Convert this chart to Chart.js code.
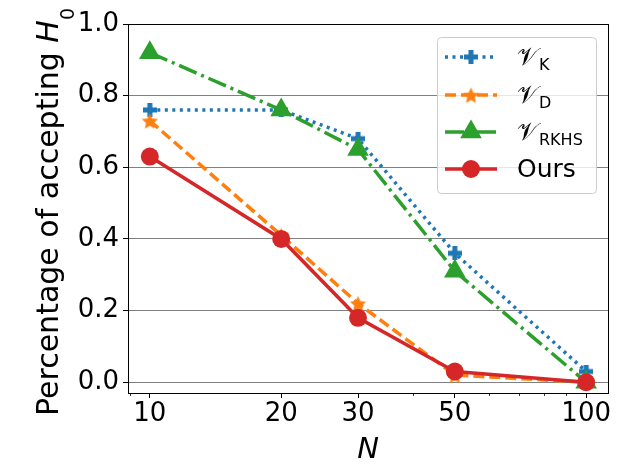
<!DOCTYPE html>
<html>
<head>
<meta charset="utf-8">
<script src="https://cdn.jsdelivr.net/npm/chart.js@4.4.1/dist/chart.umd.min.js"></script>
<style>
  html, body { margin: 0; padding: 0; background: #fff; }
</style>
</head>
<body>
<canvas id="acceptChart" width="640" height="473"></canvas>
<script>
// data
const sampleSizes = [10, 20, 30, 50, 100];
const vK = [0.76, 0.76, 0.68, 0.36, 0.03];
const vD = [0.73, 0.41, 0.22, 0.02, 0.0];
const vRKHS = [0.92, 0.76, 0.65, 0.31, 0.0];
const ours = [0.63, 0.40, 0.18, 0.03, 0.0];

const xTicks = [10, 20, 30, 50, 100];
const xMinorTicks = [9, 40, 60, 70, 80, 90];
const yTicks = [0.0, 0.2, 0.4, 0.6, 0.8, 1.0];

const legendMain = ["𝒱", "𝒱", "𝒱", "Ours"];
const legendSub = ["K", "D", "RKHS", ""];

const FONT = "'DejaVu Sans', sans-serif";

// marker images (matplotlib 'P' and '*')
function plusImage(size, thick, color) {
  const c = document.createElement("canvas");
  c.width = c.height = size;
  const g = c.getContext("2d");
  g.fillStyle = color;
  const m = (size - thick) / 2;
  g.fillRect(0, m, size, thick);
  g.fillRect(m, 0, thick, size);
  return c;
}
function starImage(r, color) {
  const s = Math.ceil(r * 2 + 2);
  const c = document.createElement("canvas");
  c.width = c.height = s;
  const g = c.getContext("2d");
  g.fillStyle = color;
  g.beginPath();
  for (let i = 0; i < 10; i++) {
    const rr = i % 2 ? r * 0.47 : r;
    const a = -Math.PI / 2 + i * Math.PI / 5;
    g.lineTo(s / 2 + rr * Math.cos(a), s / 2 + 1 + rr * Math.sin(a));
  }
  g.closePath();
  g.fill();
  return c;
}

const toPoints = (vals) => sampleSizes.map((n, i) => ({ x: n, y: vals[i] }));

const datasets = [
  {
    label: "VK", data: toPoints(vK),
    borderColor: "#1f77b4", backgroundColor: "#1f77b4",
    borderDash: [3, 4.5], borderWidth: 3.5,
    pointStyle: plusImage(14, 5, "#1f77b4"), pointRadius: 7, order: 4,
  },
  {
    label: "VD", data: toPoints(vD),
    borderColor: "#ff7f0e", backgroundColor: "#ff7f0e",
    borderDash: [11, 5], borderWidth: 3.5,
    pointStyle: starImage(8.5, "#ff7f0e"), pointRadius: 8, order: 3,
  },
  {
    label: "VRKHS", data: toPoints(vRKHS),
    borderColor: "#2ca02c", backgroundColor: "#2ca02c",
    borderDash: [19, 5, 3, 5], borderWidth: 3.5,
    pointStyle: "triangle", pointRadius: 12.5, pointBorderWidth: 0, order: 2,
  },
  {
    label: "Ours", data: toPoints(ours),
    borderColor: "#d62728", backgroundColor: "#d62728",
    borderWidth: 3.5,
    pointStyle: "circle", pointRadius: 9, pointBorderWidth: 0, order: 1,
  },
];

// frame, minor ticks, axis titles and the legend
const extras = {
  id: "extras",
  afterDraw(chart) {
    const { ctx, chartArea: a, scales } = chart;
    ctx.save();

    // full black frame
    ctx.strokeStyle = "#000";
    ctx.lineWidth = 1;
    ctx.setLineDash([]);
    ctx.strokeRect(a.left + 0.5, a.top + 0.5, a.right - a.left, a.bottom - a.top);

    // minor ticks on the log axis
    ctx.lineWidth = 0.8;
    xMinorTicks.forEach((v) => {
      const px = Math.round(scales.x.getPixelForValue(v)) + 0.5;
      ctx.beginPath();
      ctx.moveTo(px, a.bottom);
      ctx.lineTo(px, a.bottom + 3);
      ctx.stroke();
    });

    // x title
    ctx.fillStyle = "#000";
    ctx.font = "italic 29px " + FONT;
    ctx.textAlign = "center";
    ctx.textBaseline = "alphabetic";
    ctx.fillText("N", (a.left + a.right) / 2, 458);

    // y title with italic H and subscript 0
    ctx.save();
    ctx.translate(58, 212);
    ctx.rotate(-Math.PI / 2);
    const t1 = "Percentage of accepting ";
    ctx.font = "30px " + FONT;
    const w1 = ctx.measureText(t1).width;
    ctx.font = "italic 30px " + FONT;
    const w2 = ctx.measureText("H").width;
    ctx.font = "19px " + FONT;
    const w3 = ctx.measureText("0").width;
    const x0 = -(w1 + w2 + w3) / 2;
    ctx.textAlign = "left";
    ctx.font = "30px " + FONT;
    ctx.fillText(t1, x0, 0);
    ctx.font = "italic 30px " + FONT;
    ctx.fillText("H", x0 + w1, 0);
    ctx.font = "19px " + FONT;
    ctx.fillText("0", x0 + w1 + w2, 16);
    ctx.restore();

    // legend
    const bx = 437, by = 37, bw = 159, bh = 156;
    ctx.beginPath();
    ctx.roundRect(bx + 0.5, by + 0.5, bw, bh, 4);
    ctx.fillStyle = "rgba(255,255,255,0.8)";
    ctx.fill();
    ctx.strokeStyle = "#cccccc";
    ctx.lineWidth = 1;
    ctx.stroke();

    const rows = [57, 95, 132, 169];
    datasets.forEach((ds, i) => {
      const y = rows[i];
      ctx.strokeStyle = ds.borderColor;
      ctx.fillStyle = ds.backgroundColor;
      ctx.lineWidth = ds.borderWidth;
      ctx.lineCap = "butt";
      ctx.setLineDash(ds.borderDash || []);
      ctx.beginPath();
      ctx.moveTo(445, y);
      ctx.lineTo(497, y);
      ctx.stroke();
      ctx.setLineDash([]);
      Chart.helpers.drawPoint(ctx, {
        pointStyle: ds.pointStyle, radius: ds.pointRadius, rotation: 0, borderWidth: 0,
      }, 471, y);

      ctx.fillStyle = "#000";
      ctx.textAlign = "left";
      ctx.textBaseline = "alphabetic";
      ctx.font = "25px " + FONT;
      ctx.fillText(legendMain[i], 517, y + 8);
      if (legendSub[i]) {
        const wm = ctx.measureText(legendMain[i]).width;
        ctx.font = "16px " + FONT;
        ctx.fillText(legendSub[i], 517 + wm + 1, y + 13);
      }
    });

    ctx.restore();
  },
};

new Chart(document.getElementById("acceptChart").getContext("2d"), {
  type: "line",
  data: { datasets: datasets },
  options: {
    responsive: false,
    animation: false,
    layout: { padding: { top: 24, right: 32, left: 0, bottom: 0 } },
    scales: {
      x: {
        type: "logarithmic",
        min: 8.9125,
        max: 112.2,
        afterBuildTicks: (s) => { s.ticks = xTicks.map((v) => ({ value: v })); },
        afterFit: (s) => { s.height = 80; },
        ticks: {
          autoSkip: false, maxRotation: 0, padding: 1,
          color: "#000", font: { family: FONT, size: 26 },
          callback: (v) => String(v),
        },
        grid: { display: true, drawOnChartArea: false, tickLength: 5, tickColor: "#000", tickWidth: 1 },
        border: { display: true, color: "#000", width: 1 },
      },
      y: {
        min: -0.03,
        max: 1.0,
        afterBuildTicks: (s) => { s.ticks = yTicks.map((v) => ({ value: v })); },
        afterFit: (s) => { s.width = 128; },
        ticks: {
          padding: 4,
          color: "#000", font: { family: FONT, size: 26 },
          callback: (v) => v.toFixed(1),
        },
        grid: { color: "#808080", lineWidth: 1, tickLength: 5, tickColor: "#000" },
        border: { display: true, color: "#000", width: 1 },
      },
    },
    plugins: {
      legend: { display: false },
      tooltip: { enabled: false },
    },
  },
  plugins: [extras],
});
</script>
</body>
</html>
